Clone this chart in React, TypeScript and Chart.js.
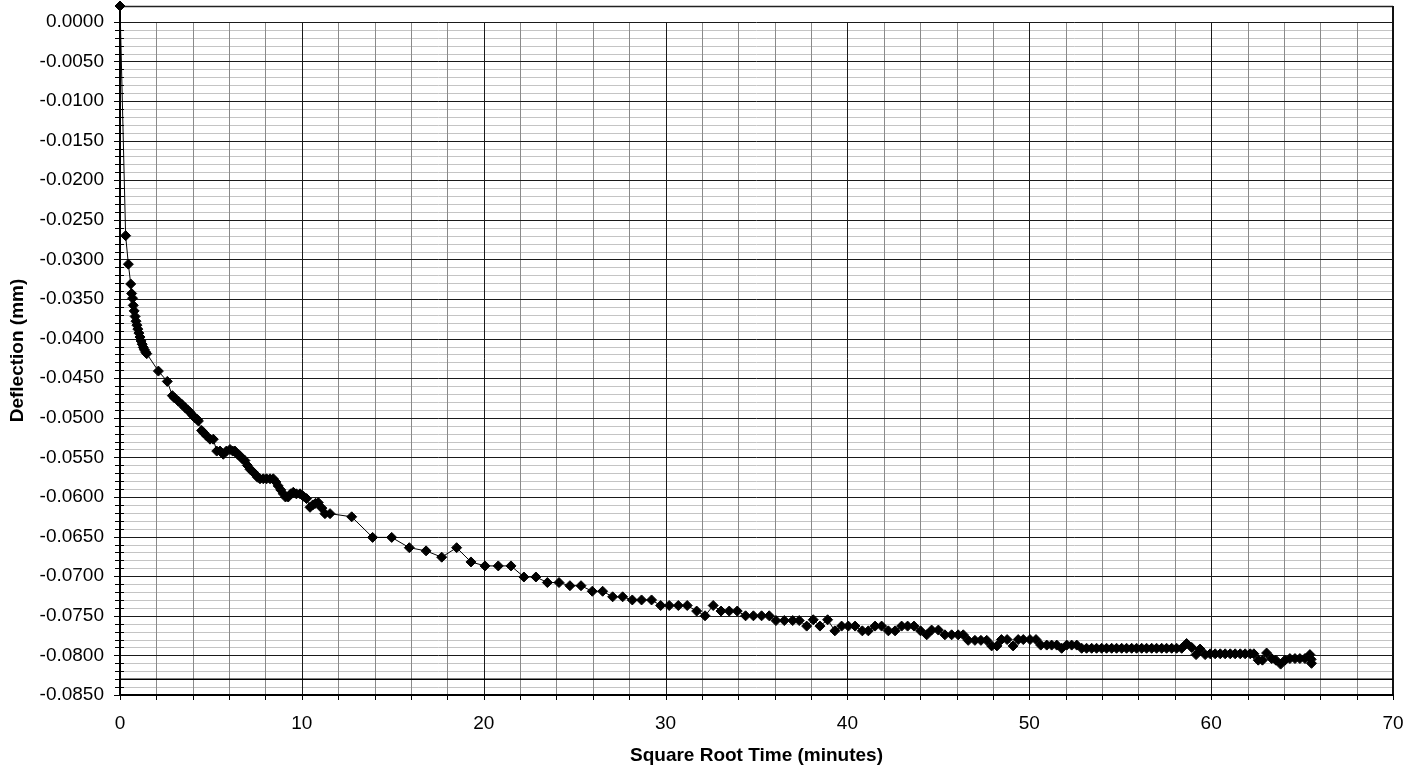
import React, { useEffect, useRef } from "react";
import { Chart, registerables } from "chart.js";

Chart.register(...registerables);

// Square-root time (minutes^0.5) for each reading
const sqrtTime: number[] = [
  0, 0.31, 0.46, 0.59, 0.64, 0.69, 0.73, 0.78, 0.83, 0.88, 0.93, 0.98, 1.04, 1.1, 1.16, 1.22, 1.28, 1.34, 1.41, 1.47,
  2.11, 2.6, 2.88, 3.0, 3.21, 3.4, 3.57, 3.72, 3.85, 4.0, 4.12, 4.25, 4.31, 4.49, 4.6, 4.77, 4.95, 5.13, 5.32, 5.5,
  5.68, 5.85, 6.05, 6.2, 6.32, 6.46, 6.6, 6.73, 6.87, 7.0, 7.15, 7.3, 7.42, 7.56, 7.7, 7.88, 8.06, 8.25, 8.43, 8.57,
  8.7, 8.84, 8.98, 9.1, 9.25, 9.39, 9.53, 9.7, 9.9, 10.08, 10.26, 10.45, 10.6, 10.75, 10.9, 11.1, 11.27, 11.55,
  12.74, 13.89, 14.94, 15.91, 16.83, 17.69, 18.51, 19.3, 20.07, 20.8, 21.5, 22.21, 22.87, 23.5, 24.14, 24.74, 25.35, 25.97, 26.54,
  27.09, 27.64, 28.17, 28.68, 29.23, 29.73, 30.2, 30.7, 31.19, 31.71, 32.17, 32.62, 33.05, 33.5, 33.94, 34.4, 34.83, 35.28, 35.7, 36.07,
  36.53, 36.99, 37.35, 37.76, 38.12, 38.49, 38.91, 39.31, 39.68, 40.05, 40.42, 40.82, 41.15, 41.52, 41.88, 42.25, 42.62, 42.98, 43.31, 43.66,
  44.02, 44.36, 44.63, 45.0, 45.36, 45.73, 46.09, 46.37, 46.64, 47.01, 47.34, 47.66, 47.93, 48.22,
  48.47, 48.78, 49.11, 49.39, 49.67, 50.04, 50.37, 50.63, 50.96, 51.23, 51.51, 51.78, 52.06, 52.33, 52.61, 52.88, 53.15, 53.43, 53.7, 53.98,
  54.25, 54.53, 54.8, 55.08, 55.35, 55.63, 55.9, 56.18, 56.45, 56.73, 57.0, 57.28, 57.55, 57.83, 58.1, 58.38, 58.65, 58.93, 59.17, 59.39,
  59.67, 59.95, 60.22, 60.5, 60.77, 61.05, 61.32, 61.6, 61.87, 62.15, 62.35, 62.59, 62.82, 63.05, 63.33, 63.56, 63.82, 64.06, 64.33, 64.61,
  64.88, 65.16, 65.43, 65.5, 65.52,
];

// Deflection (mm) for each reading
const deflection: number[] = [
  0.002, -0.027, -0.0306, -0.0331, -0.0343, -0.0349, -0.0358, -0.0365, -0.0372, -0.0378, -0.0383, -0.0388, -0.0393, -0.0398, -0.0403, -0.0407, -0.0411, -0.0414, -0.0417, -0.0419,
  -0.0441, -0.0454, -0.0472, -0.0475, -0.0479, -0.0483, -0.0487, -0.049, -0.0493, -0.0497, -0.05, -0.0502, -0.0504, -0.0516, -0.0519, -0.0523, -0.0527, -0.0527, -0.0542, -0.0542,
  -0.0546, -0.0542, -0.054, -0.0542, -0.0542, -0.0546, -0.0548, -0.0552, -0.0554, -0.056, -0.0565, -0.0568, -0.0571, -0.0575, -0.0577, -0.0577, -0.0577, -0.0577, -0.0577, -0.0581,
  -0.0586, -0.0591, -0.0596, -0.06, -0.06, -0.0596, -0.0594, -0.0596, -0.0596, -0.0599, -0.0602, -0.0613, -0.061, -0.0608, -0.0607, -0.0614, -0.0621, -0.0621,
  -0.0625, -0.0651, -0.0651, -0.0664, -0.0668, -0.0676, -0.0664, -0.0682, -0.0687, -0.0687, -0.0687, -0.0701, -0.0701, -0.0708, -0.0708, -0.0712, -0.0712, -0.0719, -0.0719,
  -0.0726, -0.0726, -0.073, -0.073, -0.073, -0.0737, -0.0737, -0.0737, -0.0737, -0.0744, -0.075, -0.0737, -0.0744, -0.0744, -0.0744, -0.075, -0.075, -0.075, -0.075, -0.0756,
  -0.0756, -0.0756, -0.0756, -0.0763, -0.0755, -0.0763, -0.0755, -0.0769, -0.0763, -0.0763, -0.0763, -0.0769, -0.0769, -0.0763, -0.0763, -0.0769, -0.0769, -0.0763, -0.0763, -0.0763,
  -0.0769, -0.0774, -0.0768, -0.0768, -0.0774, -0.0774, -0.0774, -0.0774, -0.0781, -0.0781, -0.0781, -0.0781, -0.0788, -0.0788,
  -0.078, -0.078, -0.0788, -0.078, -0.078, -0.078, -0.078, -0.0787, -0.0787, -0.0787, -0.0787, -0.0791, -0.0787, -0.0787, -0.0787, -0.0791, -0.0791, -0.0791, -0.0791, -0.0791,
  -0.0791, -0.0791, -0.0791, -0.0791, -0.0791, -0.0791, -0.0791, -0.0791, -0.0791, -0.0791, -0.0791, -0.0791, -0.0791, -0.0791, -0.0791, -0.0791, -0.0785, -0.079, -0.0799, -0.0792,
  -0.0799, -0.0798, -0.0798, -0.0798, -0.0798, -0.0798, -0.0798, -0.0798, -0.0798, -0.0798, -0.0798, -0.0806, -0.0806, -0.0797, -0.0804, -0.0806, -0.0811, -0.0806, -0.0804, -0.0804,
  -0.0804, -0.0804, -0.0799, -0.0805, -0.081,
];

// Horizontal reference line across the plot
const referenceLineX: number[] = [0, 70];
const referenceLineY: number[] = [-0.083, -0.083];

const xTickValues: number[] = [0, 10, 20, 30, 40, 50, 60, 70];
const yTickValues: number[] = [
  0, -0.005, -0.01, -0.015, -0.02, -0.025, -0.03, -0.035, -0.04, -0.045,
  -0.05, -0.055, -0.06, -0.065, -0.07, -0.075, -0.08, -0.085,
];

const xTitle = "Square Root Time (minutes)";
const yTitle = "Deflection (mm)";

const FONT = '"Liberation Sans", Arial, Helvetica, sans-serif';

const excelGrid = {
  id: "excelGrid",
  beforeDatasetsDraw(chart: any) {
    const { ctx, chartArea: a, scales } = chart;
    const xs = scales.x;
    const ys = scales.y;
    const crisp = (v: number) => Math.round(v) + 0.5;
    const line = (x1: number, y1: number, x2: number, y2: number, color: string, w: number) => {
      ctx.beginPath();
      ctx.strokeStyle = color;
      ctx.lineWidth = w;
      ctx.moveTo(x1, y1);
      ctx.lineTo(x2, y2);
      ctx.stroke();
    };
    const yZero = crisp(ys.getPixelForValue(0));
    const yBottom = a.bottom;
    ctx.save();

    // minor horizontal gridlines every 0.001
    for (let i = 1; i < 85; i++) {
      if (i % 5 === 0) continue;
      const py = crisp(ys.getPixelForValue(-i / 1000));
      line(a.left, py, a.right, py, "#c4c4c4", 1);
    }
    // minor vertical gridlines every 2
    for (let v = 2; v < 70; v += 2) {
      if (v % 10 === 0) continue;
      const px = crisp(xs.getPixelForValue(v));
      line(px, yZero, px, yBottom, "#8a8a8a", 1);
    }
    // major horizontal gridlines
    for (const v of yTickValues) {
      if (v <= -0.085) continue;
      const py = crisp(ys.getPixelForValue(v));
      line(a.left, py, a.right, py, "#1a1a1a", 1);
    }
    // major vertical gridlines
    for (const v of xTickValues) {
      if (v === 0 || v === 70) continue;
      const px = crisp(xs.getPixelForValue(v));
      line(px, yZero, px, yBottom, "#1a1a1a", 1);
    }
    // plot border (top, right)
    line(a.left, crisp(a.top), a.right, crisp(a.top), "#222", 1.5);
    line(Math.round(a.right), a.top, Math.round(a.right), a.bottom, "#111", 2);

    // y axis ticks
    for (let i = 0; i <= 85; i++) {
      const py = crisp(ys.getPixelForValue(-i / 1000));
      if (i % 5 === 0) {
        line(a.left - 6, py, a.left, py, "#000", 1);
      } else {
        line(a.left - 5, py, a.left + 4, py, "#000", 1);
      }
    }
    // x axis ticks
    for (let v = 0; v <= 70; v += 2) {
      const px = crisp(xs.getPixelForValue(v));
      line(px, a.bottom, px, a.bottom + 5, "#000", 1);
    }
    // axes lines
    line(Math.round(a.left), a.top, Math.round(a.left), a.bottom + 1, "#000", 2);
    line(a.left, Math.round(a.bottom), a.right + 1, Math.round(a.bottom), "#000", 2);

    ctx.restore();
  },
};

export default function App() {
  const canvasRef = useRef<HTMLCanvasElement | null>(null);

  useEffect(() => {
    const canvas = canvasRef.current;
    if (!canvas) return;
    const chart = new Chart(canvas, {
      type: "scatter",
      data: {
        datasets: [
          {
            label: "Deflection",
            data: sqrtTime.map((x, i) => ({ x, y: deflection[i] })),
            showLine: true,
            borderColor: "#000",
            borderWidth: 1,
            pointStyle: "rectRot",
            pointRadius: 5,
            pointBorderWidth: 1,
            pointBackgroundColor: "#000",
            pointBorderColor: "#000",
            tension: 0,
            clip: false as any,
          },
          {
            label: "Reference",
            data: referenceLineX.map((x, i) => ({ x, y: referenceLineY[i] })),
            showLine: true,
            borderColor: "#000",
            borderWidth: 1.5,
            pointRadius: 0,
            tension: 0,
          },
        ],
      },
      options: {
        animation: false,
        responsive: false,
        devicePixelRatio: 1,
        layout: { padding: { top: 3, right: 26, left: 0, bottom: 0 } },
        plugins: {
          legend: { display: false },
          tooltip: { enabled: false },
        },
        scales: {
          x: {
            type: "linear",
            min: 0,
            max: 70,
            grid: { display: false, drawTicks: false, tickLength: 0 },
            border: { display: false },
            ticks: {
              color: "#000",
              font: { family: FONT, size: 19 },
              padding: 17,
              maxRotation: 0,
              autoSkip: false,
              callback: (v: any) => String(v),
            },
            afterBuildTicks: (s: any) => {
              s.ticks = xTickValues.map((v) => ({ value: v }));
            },
            afterFit: (s: any) => {
              s.height = 75;
              s.paddingLeft = 0;
              s.paddingRight = 0;
            },
            title: {
              display: true,
              text: xTitle,
              color: "#000",
              font: { family: FONT, size: 19, weight: "bold" },
              padding: { top: 0, bottom: 3 },
            },
          },
          y: {
            type: "linear",
            min: -0.085,
            max: 0.002,
            grid: { display: false, drawTicks: false, tickLength: 0 },
            border: { display: false },
            ticks: {
              color: "#000",
              font: { family: FONT, size: 19 },
              padding: 16,
              autoSkip: false,
              callback: (v: any) => Number(v).toFixed(4),
            },
            afterBuildTicks: (s: any) => {
              s.ticks = yTickValues.map((v) => ({ value: v }));
            },
            afterFit: (s: any) => {
              s.width = 120;
              s.paddingTop = 0;
              s.paddingBottom = 0;
            },
            title: {
              display: true,
              text: yTitle,
              color: "#000",
              font: { family: FONT, size: 19, weight: "bold" },
              padding: { top: 6, bottom: 0 },
            },
          },
        },
      },
      plugins: [excelGrid],
    } as any);
    return () => chart.destroy();
  }, []);

  return (
    <div style={{ position: "absolute", left: 0, top: 0, width: 1419, height: 770, background: "#fff" }}>
      <canvas ref={canvasRef} width={1419} height={770} style={{ display: "block", width: 1419, height: 770 }} />
    </div>
  );
}
